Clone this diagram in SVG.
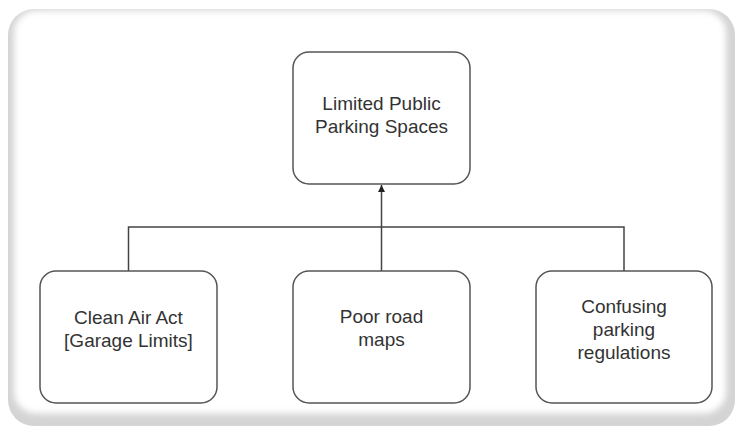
<svg xmlns="http://www.w3.org/2000/svg" width="736" height="428" viewBox="0 0 736 428">
<defs>
<filter id="soft" x="-5%" y="-5%" width="110%" height="110%"><feGaussianBlur stdDeviation="3"/></filter>
<marker id="arr" viewBox="0 0 10 10" refX="10" refY="5" markerWidth="7" markerHeight="7" orient="auto" markerUnits="userSpaceOnUse"><path d="M0,0 L10,5 L0,10 z" fill="#222"/></marker>
</defs>
<style>
.node{fill:#fff;stroke:#555;stroke-width:1.5}
.lbl{font-family:"Liberation Sans",Arial,sans-serif;font-size:19px;fill:#333;text-anchor:middle}
.con{fill:none;stroke:#444;stroke-width:1.5}
</style>
<rect width="736" height="428" fill="#fff"/>
<g id="frame">
<rect x="8" y="9" width="727" height="417" rx="26" fill="#d4d4d4"/>
<rect x="14" y="10.5" width="712" height="403" rx="22" fill="#fff" filter="url(#soft)"/>
</g>
<g id="connectors">
<path class="con" d="M128.5,271 V227 H624 V271"/>
<path class="con" d="M381.5,271 V227"/>
<path class="con" d="M381.5,227 V185" marker-end="url(#arr)"/>
</g>
<g id="top">
<rect class="node" x="293" y="52" width="177" height="132" rx="16"/>
<text class="lbl" x="381.5" y="110">Limited Public</text>
<text class="lbl" x="381.5" y="133">Parking Spaces</text>
</g>
<g id="clean">
<rect class="node" x="40" y="271" width="177" height="132" rx="16"/>
<text class="lbl" x="128.5" y="324">Clean Air Act</text>
<text class="lbl" x="128.5" y="347">[Garage Limits]</text>
</g>
<g id="poor">
<rect class="node" x="293" y="271" width="177" height="132" rx="16"/>
<text class="lbl" x="381.5" y="323">Poor road</text>
<text class="lbl" x="381.5" y="346">maps</text>
</g>
<g id="confusing">
<rect class="node" x="536" y="271" width="176" height="132" rx="16"/>
<text class="lbl" x="624" y="313">Confusing</text>
<text class="lbl" x="624" y="336">parking</text>
<text class="lbl" x="624" y="359">regulations</text>
</g>
</svg>
